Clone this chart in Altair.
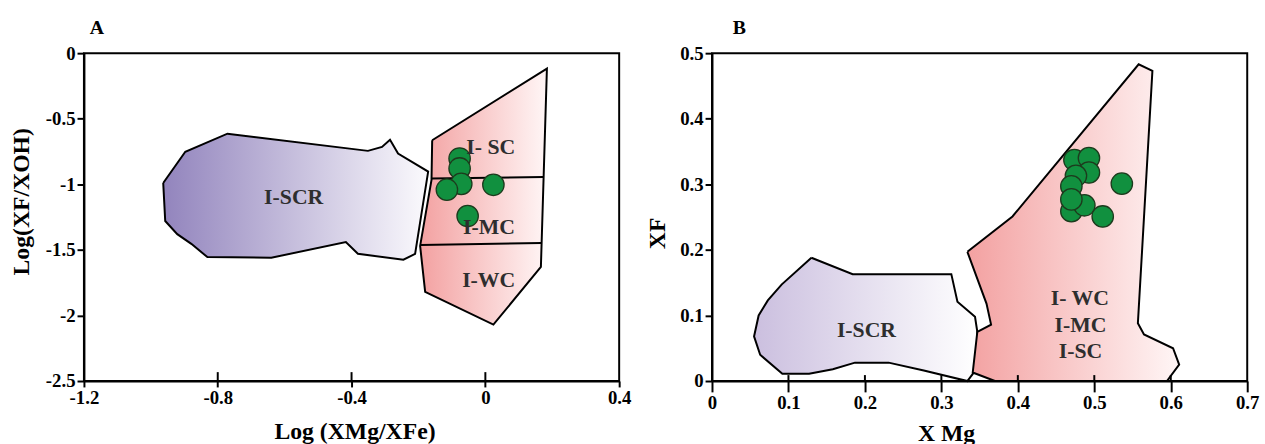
import altair as alt
import pandas as pd

# ---------------- Panel A : Log(XMg/XFe) vs Log(XF/XOH) ----------------
a_scr_x = [-0.963, -0.897, -0.771, -0.351, -0.309, -0.285, -0.261, -0.171, -0.210, -0.245,
           -0.381, -0.417, -0.640, -0.831, -0.879, -0.921, -0.957]
a_scr_y = [-0.99, -0.752, -0.614, -0.745, -0.715, -0.66, -0.765, -0.903, -1.531, -1.575,
           -1.53, -1.44, -1.56, -1.555, -1.454, -1.38, -1.28]

a_pink_x = [-0.159, 0.184, 0.166, 0.024, -0.180, -0.195, -0.161]
a_pink_y = [-0.664, -0.118, -1.63, -2.07, -1.82, -1.47, -0.966]

a_div_x = [-0.161, -0.193]
a_div_x2 = [0.174, 0.168]
a_div_y = [-0.955, -1.462]
a_div_y2 = [-0.945, -1.447]

a_lab_text = ["I-SCR", "I- SC", "I-MC", "I-WC"]
a_lab_x = [-0.573, 0.016, 0.011, 0.010]
a_lab_y = [-1.10, -0.715, -1.33, -1.73]

a_pt_x = [-0.077, -0.077, -0.072, -0.115, 0.024, -0.053]
a_pt_y = [-0.803, -0.879, -0.997, -1.041, -1.004, -1.242]

a_xticks = [-1.2, -0.8, -0.4, 0, 0.4]
a_xticks_inner = [-0.8, -0.4, 0]
a_yticks = [0, -0.5, -1, -1.5, -2, -2.5]

# ---------------- Panel B : X Mg vs XF ----------------
b_scr_x = [0.130, 0.184, 0.313, 0.321, 0.344, 0.347, 0.347, 0.334, 0.277, 0.231, 0.187,
           0.158, 0.127, 0.092, 0.063, 0.055, 0.061, 0.073, 0.091]
b_scr_y = [0.188, 0.163, 0.163, 0.121, 0.098, 0.075, 0.020, 0.0, 0.016, 0.028, 0.028,
           0.018, 0.011, 0.011, 0.040, 0.068, 0.100, 0.123, 0.147]

b_pink_x = [0.334, 0.393, 0.558, 0.576, 0.557, 0.565, 0.603, 0.611, 0.595, 0.370, 0.341,
            0.347, 0.365, 0.359]
b_pink_y = [0.197, 0.251, 0.483, 0.473, 0.088, 0.071, 0.050, 0.025, 0.0, 0.0, 0.013,
            0.075, 0.086, 0.118]

b_lab_text = ["I-SCR", "I- WC", "I-MC", "I-SC"]
b_lab_x = [0.202, 0.481, 0.482, 0.482]
b_lab_y = [0.078, 0.126, 0.085, 0.045]

b_pt_x = [0.474, 0.493, 0.493, 0.476, 0.470, 0.536, 0.470, 0.487, 0.470, 0.511]
b_pt_y = [0.337, 0.340, 0.318, 0.313, 0.297, 0.301, 0.259, 0.268, 0.277, 0.251]

b_xticks = [0, 0.1, 0.2, 0.3, 0.4, 0.5, 0.6, 0.7]
b_xticks_inner = [0.1, 0.2, 0.3, 0.4, 0.5, 0.6]
b_yticks = [0, 0.1, 0.2, 0.3, 0.4, 0.5]

FONT = "Liberation Serif"
W, H = 542, 332


def poly_df(xs, ys):
    return pd.DataFrame({"x": xs + [xs[0]], "y": ys + [ys[0]],
                         "o": list(range(len(xs) + 1))})


def grad(c0, c1):
    return alt.Gradient(gradient="linear", x1=0, x2=1, y1=0, y2=0,
                        stops=[alt.GradientStop(color=c0, offset=0),
                               alt.GradientStop(color=c1, offset=1)])


def panel(title, title_dx, title_offset, xdom, ydom, xticks, xinner, yticks, xtitle, ytitle,
          xtitle_pos, ytitle_pos, inner_len, xtick_size, polys, labels, points, dividers=None):
    sx = alt.Scale(domain=xdom, nice=False, zero=False)
    sy = alt.Scale(domain=ydom, nice=False, zero=False)
    ax = alt.Axis(values=xticks, title=xtitle, labelExpr="'' + datum.value",
                  titleX=xtitle_pos[0], titleY=xtitle_pos[1], titleAlign="center",
                  titleBaseline="middle", tickSize=xtick_size)
    ay = alt.Axis(values=yticks, title=ytitle, labelExpr="'' + datum.value",
                  titleX=ytitle_pos[0], titleY=ytitle_pos[1], titleAlign="center",
                  titleBaseline="middle", titleAngle=270, tickSize=7)
    layers = []
    for (xs, ys, c0, c1) in polys:
        layers.append(
            alt.Chart(poly_df(xs, ys)).mark_line(
                fill=grad(c0, c1), stroke="black", strokeWidth=2, strokeJoin="miter"
            ).encode(
                x=alt.X("x:Q", scale=sx, axis=ax),
                y=alt.Y("y:Q", scale=sy, axis=ay),
                order="o:Q",
            )
        )
    if dividers is not None:
        dx1, dx2, dy1, dy2 = dividers
        layers.append(
            alt.Chart(pd.DataFrame({"x": dx1, "x2": dx2, "y": dy1, "y2": dy2})).mark_rule(
                color="black", strokeWidth=2
            ).encode(
                x=alt.X("x:Q", scale=sx, axis=ax), x2="x2:Q",
                y=alt.Y("y:Q", scale=sy, axis=ay), y2="y2:Q",
            )
        )
    # inward part of the x-axis ticks
    layers.append(
        alt.Chart(pd.DataFrame({"x": xinner})).mark_rule(color="black", strokeWidth=2).encode(
            x=alt.X("x:Q", scale=sx, axis=ax),
            y=alt.value(H), y2=alt.value(H - inner_len),
        )
    )
    px, py = points
    layers.append(
        alt.Chart(pd.DataFrame({"x": px, "y": py, "o": list(range(len(px)))})).mark_circle(
            size=470, color="#11903f", stroke="#1d3a1d", strokeWidth=1.3, opacity=1
        ).encode(
            x=alt.X("x:Q", scale=sx, axis=ax),
            y=alt.Y("y:Q", scale=sy, axis=ay),
            order="o:Q",
        )
    )
    lt, lx, ly = labels
    layers.append(
        alt.Chart(pd.DataFrame({"t": lt, "x": lx, "y": ly})).mark_text(
            font=FONT, fontWeight="bold", fontSize=22, color="#2e2e2e"
        ).encode(
            x=alt.X("x:Q", scale=sx, axis=ax),
            y=alt.Y("y:Q", scale=sy, axis=ay),
            text="t:N",
        )
    )
    return alt.layer(*layers).properties(
        width=W, height=H,
        title=alt.TitleParams(title, anchor="start", dx=title_dx, offset=title_offset,
                              frame="group", font=FONT, fontSize=20, fontWeight="bold",
                              color="black"),
    )


chartA = panel(
    "A", 6, 6, [-1.2, 0.4], [-2.5, 0], a_xticks, a_xticks_inner, a_yticks,
    "Log (XMg/XFe)", "Log(XF/XOH)", (274, 51), (-63, 150), 9, 6,
    [(a_scr_x, a_scr_y, "#9284bd", "#fbfafd"), (a_pink_x, a_pink_y, "#f3a1a1", "#fff6f6")],
    (a_lab_text, a_lab_x, a_lab_y), (a_pt_x, a_pt_y),
    dividers=(a_div_x, a_div_x2, a_div_y, a_div_y2),
)

chartB = panel(
    "B", 21, 6, [0, 0.7], [0, 0.5], b_xticks, b_xticks_inner, b_yticks,
    "X Mg", "XF", (237, 53), (-55, 182), 6, 11,
    [(b_scr_x, b_scr_y, "#cbbfdf", "#ffffff"), (b_pink_x, b_pink_y, "#f3a1a1", "#fff6f6")],
    (b_lab_text, b_lab_x, b_lab_y), (b_pt_x, b_pt_y),
)

chart = alt.hconcat(chartA, chartB, spacing=13).properties(
    padding={"left": 9, "top": 15, "right": 5, "bottom": 0},
).configure_view(
    stroke="black", strokeWidth=2
).configure_axis(
    labelFont=FONT, labelFontWeight="bold", labelFontSize=19, labelColor="black",
    titleFont=FONT, titleFontWeight="bold", titleFontSize=24, titleColor="black",
    domainColor="black", domainWidth=2, tickColor="black", tickWidth=2,
    grid=False, labelFlush=False, labelOverlap=False, labelPadding=2,
)

chart.save("out.html", embed_options={"renderer": "svg", "actions": False})
